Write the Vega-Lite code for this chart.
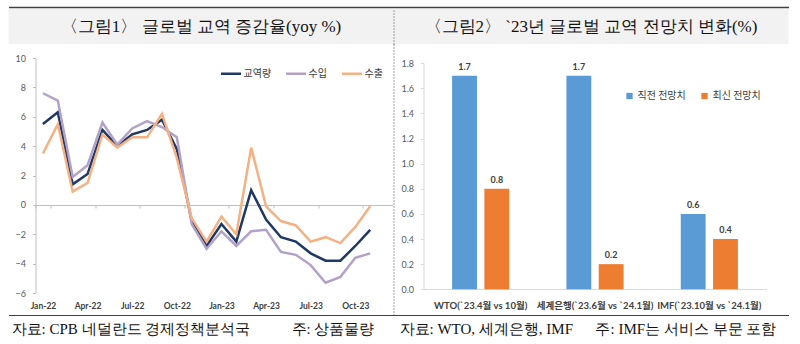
{
  "$schema": "https://vega.github.io/schema/vega-lite/v6.json",
  "padding": {"left": 8.5, "top": 7, "right": 0, "bottom": 0},
  "background": "white",
  "config": {
    "view": {"stroke": null},
    "concat": {"spacing": 0},
    "legend": {"labelFont": "Noto Sans CJK KR"},
    "axis": {"labelFont": "Lato"}
  },
  "spacing": 0,
  "resolve": {"scale": {"color": "independent"}, "legend": {"color": "independent"}},
  "hconcat": [
    {
      "spacing": 0,
      "bounds": "flush",
      "vconcat": [
        {
          "width": 385, "height": 35,
          "view": {"fill": "#F2F2F2", "stroke": null},
          "data": {"values": [{"t": "〈그림1〉 글로벌 교역 증감율(yoy %)"}]},
          "mark": {"type": "text", "fontSize": 17, "font": "Liberation Serif", "color": "#111111", "baseline": "middle", "align": "center"},
          "encoding": {
            "text": {"field": "t"},
            "x": {"datum": 0.5, "type": "quantitative", "scale": {"domain": [0, 1]},
                  "axis": {"orient": "top", "offset": 2, "domainColor": "#404040", "domainWidth": 1.5, "labels": false, "ticks": false, "grid": false, "title": null}}
          }
        },
        {
          "width": 385, "height": 271,
          "data": {"values": [
            {"m":"Jan-22","s":"교역량","v":5.5},{"m":"Feb-22","s":"교역량","v":6.3},{"m":"Mar-22","s":"교역량","v":1.4},{"m":"Apr-22","s":"교역량","v":2.1},
            {"m":"May-22","s":"교역량","v":5.1},{"m":"Jun-22","s":"교역량","v":4.0},{"m":"Jul-22","s":"교역량","v":4.8},{"m":"Aug-22","s":"교역량","v":5.1},
            {"m":"Sep-22","s":"교역량","v":5.8},{"m":"Oct-22","s":"교역량","v":3.8},{"m":"Nov-22","s":"교역량","v":-1.1},{"m":"Dec-22","s":"교역량","v":-2.8},
            {"m":"Jan-23","s":"교역량","v":-1.3},{"m":"Feb-23","s":"교역량","v":-2.5},{"m":"Mar-23","s":"교역량","v":1.0},{"m":"Apr-23","s":"교역량","v":-1.0},
            {"m":"May-23","s":"교역량","v":-2.2},{"m":"Jun-23","s":"교역량","v":-2.5},{"m":"Jul-23","s":"교역량","v":-3.3},{"m":"Aug-23","s":"교역량","v":-3.8},
            {"m":"Sep-23","s":"교역량","v":-3.8},{"m":"Oct-23","s":"교역량","v":-2.8},{"m":"Nov-23","s":"교역량","v":-1.7},
            {"m":"Jan-22","s":"수입","v":7.6},{"m":"Feb-22","s":"수입","v":7.1},{"m":"Mar-22","s":"수입","v":1.9},{"m":"Apr-22","s":"수입","v":2.7},
            {"m":"May-22","s":"수입","v":5.6},{"m":"Jun-22","s":"수입","v":4.1},{"m":"Jul-22","s":"수입","v":5.2},{"m":"Aug-22","s":"수입","v":5.7},
            {"m":"Sep-22","s":"수입","v":5.3},{"m":"Oct-22","s":"수입","v":4.6},{"m":"Nov-22","s":"수입","v":-1.3},{"m":"Dec-22","s":"수입","v":-3.0},
            {"m":"Jan-23","s":"수입","v":-1.8},{"m":"Feb-23","s":"수입","v":-2.8},{"m":"Mar-23","s":"수입","v":-1.8},{"m":"Apr-23","s":"수입","v":-1.7},
            {"m":"May-23","s":"수입","v":-3.2},{"m":"Jun-23","s":"수입","v":-3.4},{"m":"Jul-23","s":"수입","v":-4.1},{"m":"Aug-23","s":"수입","v":-5.3},
            {"m":"Sep-23","s":"수입","v":-4.9},{"m":"Oct-23","s":"수입","v":-3.6},{"m":"Nov-23","s":"수입","v":-3.3},
            {"m":"Jan-22","s":"수출","v":3.5},{"m":"Feb-22","s":"수출","v":5.5},{"m":"Mar-22","s":"수출","v":0.9},{"m":"Apr-22","s":"수출","v":1.5},
            {"m":"May-22","s":"수출","v":4.8},{"m":"Jun-22","s":"수출","v":3.9},{"m":"Jul-22","s":"수출","v":4.6},{"m":"Aug-22","s":"수출","v":4.6},
            {"m":"Sep-22","s":"수출","v":6.2},{"m":"Oct-22","s":"수출","v":3.2},{"m":"Nov-22","s":"수출","v":-0.9},{"m":"Dec-22","s":"수출","v":-2.5},
            {"m":"Jan-23","s":"수출","v":-0.8},{"m":"Feb-23","s":"수출","v":-2.0},{"m":"Mar-23","s":"수출","v":3.9},{"m":"Apr-23","s":"수출","v":-0.1},
            {"m":"May-23","s":"수출","v":-1.1},{"m":"Jun-23","s":"수출","v":-1.4},{"m":"Jul-23","s":"수출","v":-2.5},{"m":"Aug-23","s":"수출","v":-2.2},
            {"m":"Sep-23","s":"수출","v":-2.6},{"m":"Oct-23","s":"수출","v":-1.5},{"m":"Nov-23","s":"수출","v":-0.1}
          ]},
          "mark": {"type": "line", "strokeWidth": 2.5},
          "encoding": {
            "x": {
              "field": "m", "type": "ordinal", "bandPosition": 0.5,
              "scale": {"type": "band", "domain": ["Jan-22","Feb-22","Mar-22","Apr-22","May-22","Jun-22","Jul-22","Aug-22","Sep-22","Oct-22","Nov-22","Dec-22","Jan-23","Feb-23","Mar-23","Apr-23","May-23","Jun-23","Jul-23","Aug-23","Sep-23","Oct-23","Nov-23","Dec-23"], "range": [27, 384], "paddingInner": 0, "paddingOuter": 0},
              "axis": {"orient": "bottom", "offset": -110, "values": ["Jan-22","Apr-22","Jul-22","Oct-22","Jan-23","Apr-23","Jul-23","Oct-23"],
                       "domainColor": "#BFBFBF", "domainWidth": 1, "ticks": true, "tickBand": "extent", "tickSize": 3, "tickColor": "#BFBFBF",
                       "labelPadding": 93, "labelFontSize": 8.5, "labelFontWeight": "bold", "labelColor": "#404040", "labelAngle": 0, "labelOverlap": false, "grid": false, "title": null}
            },
            "y": {
              "field": "v", "type": "quantitative",
              "scale": {"domain": [-6, 10], "range": [249, 14], "nice": false, "zero": false},
              "axis": {"orient": "left", "offset": -27, "values": [-6,-4,-2,0,2,4,6,8,10], "grid": false, "domainColor": "#BFBFBF", "tickColor": "#BFBFBF", "tickSize": 3,
                       "labelPadding": 7, "labelFontSize": 9, "labelColor": "#595959", "title": null}
            },
            "color": {
              "field": "s", "type": "nominal",
              "scale": {"domain": ["교역량","수입","수출"], "range": ["#1F3864","#B3A2C7","#F4B183"]},
              "legend": {"orient": "none", "legendX": 211, "legendY": 53, "direction": "horizontal", "title": null,
                         "symbolType": "stroke", "symbolSize": 400, "symbolStrokeWidth": 2.5, "labelFontSize": 10, "labelColor": "#404040",
                         "labelOffset": 1, "columnPadding": 9}
            }
          }
        },
        {
          "width": 385, "height": 28,
          "data": {"values": [{"t": "자료: CPB 네덜란드 경제정책분석국\u00a0\u00a0\u00a0\u00a0\u00a0\u00a0\u00a0\u00a0\u00a0\u00a0\u00a0주: 상품물량"}]},
          "mark": {"type": "text", "fontSize": 15, "font": "Liberation Serif", "color": "#111111", "baseline": "middle", "align": "left", "dx": 3},
          "encoding": {
            "text": {"field": "t"},
            "x": {"datum": 0, "type": "quantitative", "scale": {"domain": [0, 1]},
                  "axis": {"orient": "top", "domainColor": "#404040", "domainWidth": 1, "labels": false, "ticks": false, "grid": false, "title": null}}
          }
        }
      ]
    },
    {
      "spacing": 0,
      "bounds": "flush",
      "vconcat": [
        {
          "width": 395, "height": 35,
          "view": {"fill": "#F2F2F2", "stroke": null},
          "data": {"values": [{"t": "〈그림2〉 `23년 글로벌 교역 전망치 변화(%)"}]},
          "mark": {"type": "text", "fontSize": 17, "font": "Liberation Serif", "color": "#111111", "baseline": "middle", "align": "center"},
          "encoding": {
            "text": {"field": "t"},
            "x": {"datum": 0.5, "type": "quantitative", "scale": {"domain": [0, 1]},
                  "axis": {"orient": "top", "offset": 2, "domainColor": "#404040", "domainWidth": 1.5, "labels": false, "ticks": false, "grid": false, "title": null}},
            "y": {"datum": 0.5, "type": "quantitative", "scale": {"domain": [0, 1]},
                  "axis": {"orient": "left", "domainColor": "#404040", "domainDash": [1, 2], "domainWidth": 1, "labels": false, "ticks": false, "grid": false, "title": null}}
          }
        },
        {
          "width": 395, "height": 271,
          "data": {"values": [
            {"c": "WTO(`23.4월 vs 10월)", "s": "직전 전망치", "v": 1.7},
            {"c": "WTO(`23.4월 vs 10월)", "s": "최신 전망치", "v": 0.8},
            {"c": "세계은행(`23.6월 vs `24.1월)", "s": "직전 전망치", "v": 1.7},
            {"c": "세계은행(`23.6월 vs `24.1월)", "s": "최신 전망치", "v": 0.2},
            {"c": "IMF(`23.10월 vs `24.1월)", "s": "직전 전망치", "v": 0.6},
            {"c": "IMF(`23.10월 vs `24.1월)", "s": "최신 전망치", "v": 0.4}
          ]},
          "encoding": {
            "x": {
              "field": "c", "type": "nominal", "sort": null,
              "scale": {"range": [30, 373], "paddingInner": 0.5, "paddingOuter": 0.25},
              "axis": {"orient": "bottom", "offset": -26, "domainColor": "#D9D9D9", "ticks": false, "labelPadding": 11,
                       "labelFont": "Lato, Noto Sans CJK KR", "labelFontSize": 9.5, "labelFontWeight": "bold", "labelColor": "#404040",
                       "labelAngle": 0, "labelOverlap": false, "labelLimit": 0, "grid": false, "title": null}
            },
            "xOffset": {"field": "s", "type": "nominal", "sort": ["직전 전망치", "최신 전망치"], "scale": {"paddingInner": 0.23, "paddingOuter": 0}}
          },
          "layer": [
            {
              "mark": {"type": "bar"},
              "encoding": {
                "y": {"field": "v", "type": "quantitative",
                      "scale": {"domain": [-0.205, 1.953], "nice": false, "zero": false},
                      "axis": {"orient": "left", "offset": -30, "values": [0, 0.2, 0.4, 0.6, 0.8, 1.0, 1.2, 1.4, 1.6, 1.8], "format": ".1f",
                               "domainColor": "#D9D9D9", "domainDash": [226, 300], "domainDashOffset": 500,
                               "tickColor": "#D9D9D9", "tickSize": 3, "labelPadding": 7, "labelFontSize": 9, "labelColor": "#595959",
                               "grid": false, "title": null}},
                "y2": {"datum": 0},
                "color": {
                  "field": "s", "type": "nominal",
                  "scale": {"domain": ["직전 전망치", "최신 전망치"], "range": ["#5B9BD5", "#ED7D31"]},
                  "legend": {"orient": "none", "legendX": 231, "legendY": 82, "direction": "horizontal", "title": null,
                             "symbolType": "square", "symbolSize": 40, "labelFontSize": 10, "labelColor": "#404040",
                             "labelOffset": 3, "columnPadding": 13}
                }
              }
            },
            {
              "mark": {"type": "text", "baseline": "bottom", "dy": -4, "fontSize": 9, "fontWeight": "bold", "font": "Lato", "color": "#404040"},
              "encoding": {
                "y": {"field": "v", "type": "quantitative",
                      "scale": {"domain": [-0.205, 1.953], "nice": false, "zero": false},
                      "axis": {"orient": "left", "offset": 0, "domainColor": "#404040", "domainDash": [1, 2], "domainWidth": 1,
                               "labels": false, "ticks": false, "grid": false, "title": null}},
                "text": {"field": "v", "type": "quantitative", "format": ".1f"}
              }
            }
          ],
          "resolve": {"axis": {"y": "independent"}}
        },
        {
          "width": 395, "height": 28,
          "data": {"values": [{"t": "자료: WTO, 세계은행, IMF\u00a0\u00a0\u00a0\u00a0\u00a0\u00a0주: IMF는 서비스 부문 포함"}]},
          "mark": {"type": "text", "fontSize": 15, "font": "Liberation Serif", "color": "#111111", "baseline": "middle", "align": "left", "dx": 6},
          "encoding": {
            "text": {"field": "t"},
            "x": {"datum": 0, "type": "quantitative", "scale": {"domain": [0, 1]},
                  "axis": {"orient": "top", "domainColor": "#404040", "domainWidth": 1, "labels": false, "ticks": false, "grid": false, "title": null}}
          }
        }
      ]
    }
  ]
}
